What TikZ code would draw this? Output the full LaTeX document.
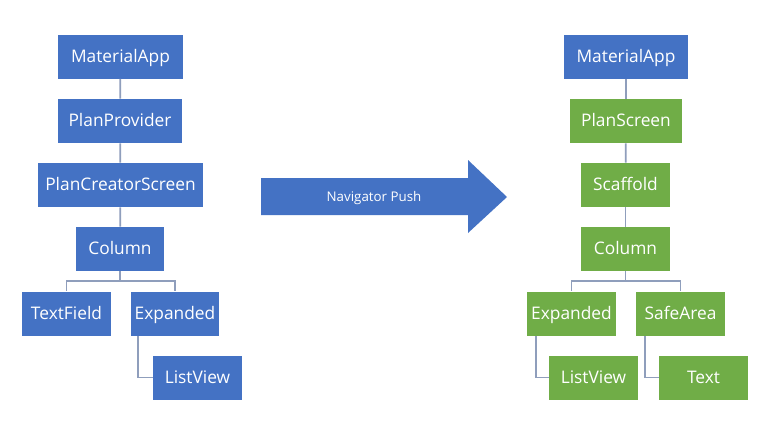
\documentclass[tikz,border=0pt]{standalone}
\usepackage{fontspec}
\setmainfont{Open Sans}
\definecolor{flblue}{RGB}{68,114,196}
\definecolor{flgreen}{RGB}{112,173,71}
\definecolor{fllink}{RGB}{143,158,188}
\usetikzlibrary{positioning}

\begin{document}
\begin{tikzpicture}[x=0.75pt,y=-0.75pt,
  wbox/.style={minimum height=33pt, inner xsep=2pt, text height=1.8ex, text depth=.2ex, align=center, font=\fontsize{13}{15}\selectfont, text=white},
  bluebox/.style={wbox, fill=flblue},
  greenbox/.style={wbox, fill=flgreen},
  link/.style={draw=fllink, line width=1.3pt}
]
  \useasboundingbox[fill=white] (0,0) rectangle (760,433);

  %% Left tree
  \node[bluebox, minimum width=93.75pt]  (lapp)  at (120.5,56.5)  {MaterialApp};
  \node[bluebox, minimum width=93pt]     (lprov) at (120,121)     {PlanProvider};
  \node[bluebox, minimum width=123.75pt] (lcre)  at (120.5,185)   {PlanCreatorScreen};
  \node[bluebox, minimum width=66pt]     (lcol)  at (120,249)     {Column};
  \node[bluebox, minimum width=66.75pt]  (ltf)   at (66.5,313.5)  {TextField};
  \node[bluebox, minimum width=66pt]     (lexp)  at (175,313.5)   {Expanded};
  \node[bluebox, minimum width=66.75pt]  (llv)   at (197.5,377.5) {ListView};

  \draw[link] (lapp) -- (lprov);
  \draw[link] (lprov) -- (lcre);
  \draw[link] (lcre) -- (lcol);
  \draw[link] (lcol.south) -- ++(0,10) -| (ltf.north);
  \draw[link] (lcol.south) -- ++(0,10) -| (lexp.north);
  \draw[link] ([xshift=5.25pt]lexp.south west) |- (llv.west);

  %% Push arrow
  \fill[flblue] (261,178) -- (468,178) -- (468,160) -- (507,197) -- (468,233) -- (468,215) -- (261,215) -- cycle;
  \node[text=white, font=\fontsize{10}{12}\selectfont] (push) at (374,198) {Navigator Push};

  %% Right tree
  \node[bluebox, minimum width=93pt]     (rapp)  at (626,56.5)    {MaterialApp};
  \node[greenbox, minimum width=84pt]    (rplan) at (626,121)     {PlanScreen};
  \node[greenbox, minimum width=66.75pt] (rscaf) at (625.5,185)   {Scaffold};
  \node[greenbox, minimum width=66.75pt] (rcol)  at (625.5,249)   {Column};
  \node[greenbox, minimum width=66.75pt] (rexp)  at (571.5,313.5) {Expanded};
  \node[greenbox, minimum width=66.75pt] (rsafe) at (680.5,313.5) {SafeArea};
  \node[greenbox, minimum width=66.75pt] (rlv)   at (593.5,377.5) {ListView};
  \node[greenbox, minimum width=66.75pt] (rtxt)  at (703.5,377.5) {Text};

  \draw[link] (rapp) -- (rplan);
  \draw[link] (rplan) -- (rscaf);
  \draw[link] (rscaf) -- (rcol);
  \draw[link] (rcol.south) -- ++(0,10) -| (rexp.north);
  \draw[link] (rcol.south) -- ++(0,10) -| (rsafe.north);
  \draw[link] ([xshift=6.75pt]rexp.south west) |- (rlv.west);
  \draw[link] ([xshift=6.75pt]rsafe.south west) |- (rtxt.west);
\end{tikzpicture}
\end{document}
